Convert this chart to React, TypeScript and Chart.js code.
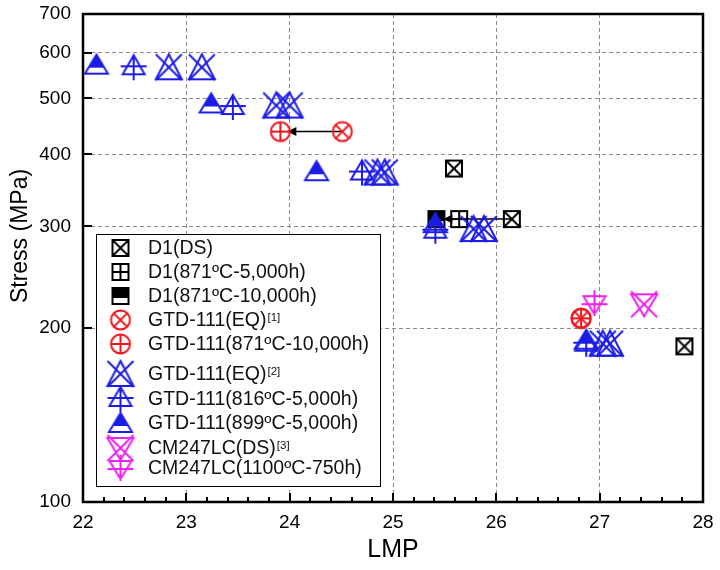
import React, { useEffect, useRef } from 'react';
import { Chart, registerables } from 'chart.js';

Chart.register(...registerables);

const FONT = '"Liberation Sans", Arial, Helvetica, sans-serif';

type Pt = { x: number; y: number };

// ---- data (LMP, stress MPa) ----
const D1_DS: Pt[] = [
  { x: 25.59, y: 378 },
  { x: 26.15, y: 309 },
  { x: 27.82, y: 186 },
];
const D1_871_5000: Pt[] = [{ x: 25.64, y: 309 }];
const D1_871_10000: Pt[] = [{ x: 25.42, y: 309 }];
const GTD_EQ1: Pt[] = [
  { x: 24.51, y: 438 },
  { x: 26.82, y: 208 },
];
const GTD_871_10000: Pt[] = [
  { x: 23.91, y: 438 },
  { x: 26.82, y: 208 },
];
const GTD_EQ2: Pt[] = [
  { x: 22.83, y: 566 },
  { x: 23.15, y: 566 },
  { x: 23.87, y: 486 },
  { x: 24.0, y: 486 },
  { x: 24.85, y: 372 },
  { x: 24.92, y: 372 },
  { x: 25.78, y: 297 },
  { x: 25.88, y: 297 },
  { x: 27.03, y: 188 },
  { x: 27.1, y: 188 },
];
const GTD_816_5000: Pt[] = [
  { x: 22.49, y: 566 },
  { x: 23.45, y: 483 },
  { x: 24.7, y: 372 },
  { x: 25.41, y: 295 },
  { x: 26.87, y: 188 },
];
const GTD_899_5000: Pt[] = [
  { x: 22.13, y: 572 },
  { x: 23.24, y: 490 },
  { x: 24.26, y: 374 },
  { x: 25.41, y: 304 },
  { x: 26.87, y: 191 },
];
const CM_DS: Pt[] = [{ x: 27.43, y: 220 }];
const CM_1100_750: Pt[] = [{ x: 26.95, y: 221 }];

const ARROWS = [
  { from: { x: 24.51, y: 438 }, to: { x: 23.91, y: 438 } },
  { from: { x: 26.15, y: 309 }, to: { x: 25.42, y: 309 } },
];

const X_TICKS = [22, 23, 24, 25, 26, 27, 28];
const Y_TICKS = [100, 200, 300, 400, 500, 600, 700];
const X_TITLE = 'LMP';
const Y_TITLE = 'Stress (MPa)';

const LABELS = [
  { text: 'D1(DS)', sup: '' },
  { text: 'D1(871ºC-5,000h)', sup: '' },
  { text: 'D1(871ºC-10,000h)', sup: '' },
  { text: 'GTD-111(EQ)', sup: '[1]' },
  { text: 'GTD-111(871ºC-10,000h)', sup: '' },
  { text: 'GTD-111(EQ)', sup: '[2]' },
  { text: 'GTD-111(816ºC-5,000h)', sup: '' },
  { text: 'GTD-111(899ºC-5,000h)', sup: '' },
  { text: 'CM247LC(DS)', sup: '[3]' },
  { text: 'CM247LC(1100ºC-750h)', sup: '' },
];

const BLACK = '#000000';
const RED = '#f0141c';
const BLUE = '#1c1ce6';
const MAGENTA = '#ee22ee';

type Kind =
  | 'boxX'
  | 'boxPlus'
  | 'boxHalf'
  | 'circX'
  | 'circPlus'
  | 'triX'
  | 'triPlus'
  | 'triFill'
  | 'invTriX'
  | 'invTriPlus';

function makeMarker(kind: Kind, color: string): HTMLCanvasElement {
  const c = document.createElement('canvas');
  c.width = 34;
  c.height = 34;
  const g = c.getContext('2d')!;
  g.translate(17, 17);
  g.strokeStyle = color;
  g.fillStyle = color;
  g.lineWidth = 2;
  g.lineJoin = 'miter';
  const line = (x1: number, y1: number, x2: number, y2: number) => {
    g.beginPath();
    g.moveTo(x1, y1);
    g.lineTo(x2, y2);
    g.stroke();
  };
  const poly = (pts: number[][], fill = false) => {
    g.beginPath();
    g.moveTo(pts[0][0], pts[0][1]);
    for (let i = 1; i < pts.length; i++) g.lineTo(pts[i][0], pts[i][1]);
    g.closePath();
    if (fill) g.fill();
    else g.stroke();
  };
  switch (kind) {
    case 'boxX': {
      const h = 8;
      g.strokeRect(-h, -h, 2 * h, 2 * h);
      line(-h, -h, h, h);
      line(h, -h, -h, h);
      break;
    }
    case 'boxPlus': {
      const h = 8;
      g.strokeRect(-h, -h, 2 * h, 2 * h);
      line(0, -h, 0, h);
      line(-h, 0, h, 0);
      break;
    }
    case 'boxHalf': {
      const h = 8;
      g.fillRect(-h, -h, 2 * h, h + 2);
      g.strokeRect(-h, -h, 2 * h, 2 * h);
      break;
    }
    case 'circX': {
      const r = 9.5;
      g.beginPath();
      g.arc(0, 0, r, 0, Math.PI * 2);
      g.stroke();
      const d = r * 0.72;
      line(-d, -d, d, d);
      line(d, -d, -d, d);
      break;
    }
    case 'circPlus': {
      const r = 9.5;
      g.beginPath();
      g.arc(0, 0, r, 0, Math.PI * 2);
      g.stroke();
      line(0, -r, 0, r);
      line(-r, 0, r, 0);
      break;
    }
    case 'triX': {
      poly([
        [0, -13],
        [-13, 12],
        [13, 12],
      ]);
      line(-13, -13, 13, 13);
      line(13, -13, -13, 13);
      break;
    }
    case 'triPlus': {
      poly([
        [0, -12],
        [-11, 7],
        [11, 7],
      ]);
      line(0, -13, 0, 13);
      line(-13, -1, 13, -1);
      break;
    }
    case 'triFill': {
      g.save();
      g.beginPath();
      g.rect(-15, -15, 30, 18);
      g.clip();
      poly(
        [
          [0, -10],
          [-11.5, 9],
          [11.5, 9],
        ],
        true
      );
      g.restore();
      poly([
        [0, -10],
        [-11.5, 9],
        [11.5, 9],
      ]);
      break;
    }
    case 'invTriX': {
      poly([
        [-13, -10],
        [13, -10],
        [0, 12],
      ]);
      line(-13, -13, 13, 13);
      line(13, -13, -13, 13);
      break;
    }
    case 'invTriPlus': {
      poly([
        [-11, -7],
        [11, -7],
        [0, 11],
      ]);
      line(0, -13, 0, 13);
      line(-13, 1, 13, 1);
      break;
    }
  }
  return c;
}

export default function App() {
  const ref = useRef<HTMLCanvasElement | null>(null);

  useEffect(() => {
    if (!ref.current) return;
    const markers = [
      makeMarker('boxX', BLACK),
      makeMarker('boxPlus', BLACK),
      makeMarker('boxHalf', BLACK),
      makeMarker('circX', RED),
      makeMarker('circPlus', RED),
      makeMarker('triX', BLUE),
      makeMarker('triPlus', BLUE),
      makeMarker('triFill', BLUE),
      makeMarker('invTriX', MAGENTA),
      makeMarker('invTriPlus', MAGENTA),
    ];
    const series = [
      D1_DS,
      D1_871_5000,
      D1_871_10000,
      GTD_EQ1,
      GTD_871_10000,
      GTD_EQ2,
      GTD_816_5000,
      GTD_899_5000,
      CM_DS,
      CM_1100_750,
    ];
    const orders = [10, 10, 10, 5, 5, 3, 2, 1, 4, 4];

    const decor = {
      id: 'decor',
      beforeDatasetsDraw(chart: any) {
        const { ctx } = chart;
        const xs = chart.scales.x;
        const ys = chart.scales.y;
        ctx.save();
        ctx.strokeStyle = '#000';
        ctx.fillStyle = '#000';
        ctx.lineWidth = 1.5;
        for (const a of ARROWS) {
          const x1 = xs.getPixelForValue(a.from.x);
          const y1 = ys.getPixelForValue(a.from.y);
          const x2 = xs.getPixelForValue(a.to.x);
          const y2 = ys.getPixelForValue(a.to.y);
          const dir = Math.sign(x1 - x2) || 1;
          const tip = x2 + dir * 7;
          ctx.beginPath();
          ctx.moveTo(x1, y1);
          ctx.lineTo(tip, y2);
          ctx.stroke();
          ctx.beginPath();
          ctx.moveTo(tip, y2);
          ctx.lineTo(tip + dir * 9, y2 - 4.5);
          ctx.lineTo(tip + dir * 9, y2 + 4.5);
          ctx.closePath();
          ctx.fill();
        }
        ctx.restore();
      },
      afterDraw(chart: any) {
        const { ctx, chartArea } = chart;
        const xs = chart.scales.x;
        const ys = chart.scales.y;
        const { left, right, top, bottom } = chartArea;
        ctx.save();
        // ticks (inward)
        ctx.strokeStyle = '#000';
        ctx.lineWidth = 2;
        for (let i = 0; i <= 30; i++) {
          const v = 22 + i * 0.2;
          const px = Math.round(xs.getPixelForValue(v));
          const len = i % 5 === 0 ? 9 : 5;
          ctx.beginPath();
          ctx.moveTo(px, bottom);
          ctx.lineTo(px, bottom - len);
          ctx.stroke();
        }
        for (const v of Y_TICKS) {
          const py = Math.round(ys.getPixelForValue(v));
          ctx.beginPath();
          ctx.moveTo(left, py);
          ctx.lineTo(left + 9, py);
          ctx.stroke();
        }
        // frame
        ctx.lineWidth = 2.5;
        ctx.strokeRect(left, top, right - left, bottom - top);

        // axis titles
        ctx.fillStyle = '#000';
        ctx.textAlign = 'center';
        ctx.textBaseline = 'middle';
        ctx.font = `25px ${FONT}`;
        ctx.fillText(X_TITLE, (left + right) / 2, 550);
        ctx.save();
        ctx.translate(21, 236);
        ctx.rotate(-Math.PI / 2);
        ctx.font = `23px ${FONT}`;
        ctx.fillText(Y_TITLE, 0, 0);
        ctx.restore();

        // legend
        const bx = 96.5;
        const by = 234.5;
        const bw = 284;
        const bh = 252;
        ctx.fillStyle = '#fff';
        ctx.fillRect(bx, by, bw, bh);
        ctx.lineWidth = 1;
        ctx.strokeStyle = '#000';
        ctx.strokeRect(bx, by, bw, bh);
        const rows = [248, 272, 296, 320, 344, 374, 399, 423, 448, 468];
        ctx.textAlign = 'left';
        LABELS.forEach((lab, i) => {
          const m = markers[i];
          const cy = rows[i];
          ctx.drawImage(m, 120.5 - m.width / 2, cy - m.height / 2);
          ctx.fillStyle = '#111';
          ctx.textBaseline = 'middle';
          ctx.font = `19.5px ${FONT}`;
          ctx.fillText(lab.text, 148, cy + 1);
          if (lab.sup) {
            const w = ctx.measureText(lab.text).width;
            ctx.font = `11.5px ${FONT}`;
            ctx.textBaseline = 'top';
            ctx.fillText(lab.sup, 148 + w + 1, cy - 8);
          }
        });
        ctx.restore();
      },
    };

    const chart = new Chart(ref.current, {
      type: 'scatter',
      data: {
        datasets: series.map((d, i) => ({
          label: LABELS[i].text + LABELS[i].sup,
          data: d,
          pointStyle: markers[i] as any,
          pointRadius: 12,
          pointHoverRadius: 12,
          showLine: false,
          order: orders[i],
        })),
      },
      options: {
        responsive: false,
        animation: false,
        events: [],
        layout: { padding: { top: 14, right: 17, left: 0, bottom: 0 } },
        plugins: {
          legend: { display: false },
          tooltip: { enabled: false },
        },
        scales: {
          x: {
            type: 'linear',
            min: 22,
            max: 28,
            afterBuildTicks: (s: any) => {
              s.ticks = X_TICKS.map((v) => ({ value: v }));
            },
            afterFit: (s: any) => {
              s.height = 68;
              s.paddingLeft = 0;
              s.paddingRight = 0;
            },
            ticks: {
              color: '#000',
              font: { family: FONT, size: 19 },
              padding: 9,
              maxRotation: 0,
              callback: (v: any) => String(v),
            },
            grid: { color: '#8a8a8a', lineWidth: 1, drawTicks: false, tickLength: 0 },
            border: { display: true, color: '#000', width: 2, dash: [4, 3] },
            title: { display: false },
          },
          y: {
            type: 'logarithmic',
            min: 100,
            max: 700,
            afterBuildTicks: (s: any) => {
              s.ticks = Y_TICKS.map((v) => ({ value: v }));
            },
            afterFit: (s: any) => {
              s.width = 83;
              s.paddingTop = 0;
              s.paddingBottom = 0;
            },
            ticks: {
              color: '#000',
              font: { family: FONT, size: 19 },
              padding: 12,
              callback: (v: any) => String(v),
            },
            grid: { color: '#8a8a8a', lineWidth: 1, drawTicks: false, tickLength: 0 },
            border: { display: true, color: '#000', width: 2, dash: [4, 3] },
            title: { display: false },
          },
        },
      },
      plugins: [decor],
    });
    return () => chart.destroy();
  }, []);

  return (
    <div style={{ position: 'absolute', left: 0, top: 0, width: 720, height: 570, background: '#fff' }}>
      <canvas ref={ref} width={720} height={570} />
    </div>
  );
}
